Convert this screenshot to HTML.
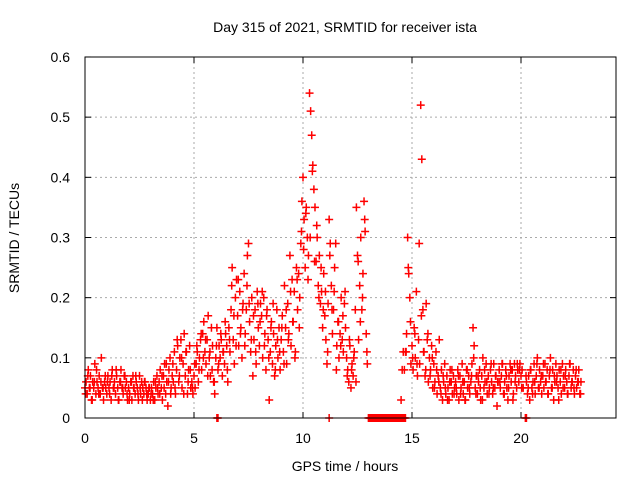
<!DOCTYPE html>
<html><head><meta charset="utf-8"><style>
body{margin:0;background:#fff}
svg{display:block;font-family:"Liberation Sans",sans-serif}
</style></head><body>
<svg id="chart" width="640" height="480">
<text x="345" y="32" text-anchor="middle" font-size="14">Day 315 of 2021, SRMTID for receiver ista</text>
<text x="345" y="471" text-anchor="middle" font-size="14">GPS time / hours</text>
<text transform="translate(19,238) rotate(-90)" text-anchor="middle" font-size="14">SRMTID / TECUs</text>
<g id="grid"></g><g id="ticks"></g><g id="pts"></g>
<rect x="85" y="57" width="531" height="361" fill="none" stroke="#000"/>
</svg>
<script>
const xTicks=[0,5,10,15,20];
const yTicks=[0,0.1,0.2,0.3,0.4,0.5,0.6];
const yTickLabels=["0","0.1","0.2","0.3","0.4","0.5","0.6"];
const stepA=0.05;
const valuesA=[
0.05,0.06,0.04,0.08,0.05,0.07,0.03,0.06,0.05,0.09,0.04,0.06,0.05,0.07,0.04,0.10,0.05,0.03,0.06,0.05,
0.04,0.07,0.05,0.06,0.03,0.08,0.05,0.06,0.04,0.07,0.05,0.03,0.06,0.08,0.05,0.04,0.07,0.05,0.06,0.03,
0.05,0.04,0.06,0.03,0.07,0.05,0.04,0.06,0.05,0.03,0.07,0.04,0.06,0.05,0.04,0.06,0.05,0.03,0.04,0.05,
0.03,0.05,0.04,0.06,0.03,0.05,0.07,0.04,0.06,0.08,0.05,0.03,0.07,0.09,0.04,0.06,0.02,0.08,0.10,0.05,
0.07,0.06,0.11,0.04,0.08,0.12,0.06,0.10,0.13,0.05,0.09,0.14,0.07,0.11,0.04,0.08,0.12,0.05,0.06,0.04,
0.07,0.05,0.09,0.11,0.06,0.10,0.13,0.08,0.14,0.16,0.11,0.09,0.13,0.17,0.10,0.07,0.15,0.12,0.06,0.04,
0.10,0.15,0.08,0.12,0.10,0.13,0.07,0.11,0.09,0.14,0.12,0.06,0.15,0.11,0.18,0.25,0.13,0.09,0.20,0.23,
0.17,0.12,0.21,0.15,0.10,0.19,0.24,0.14,0.18,0.27,0.29,0.16,0.11,0.20,0.07,0.13,0.18,0.09,0.21,0.15,
0.12,0.19,0.17,0.10,0.20,0.14,0.08,0.18,0.13,0.03,0.11,0.16,0.09,0.14,0.07,0.12,0.18,0.10,0.15,0.08,
0.13,0.17,0.11,0.22,0.15,0.09,0.19,0.14,0.27,0.12,0.23,0.16,0.21,0.11,0.25,0.18,0.24,0.20,0.29,0.36,
0.40,0.33,0.25,0.35,0.30,0.27,0.54,0.51,0.47,0.42,0.38,0.35,0.26,0.30,0.22,0.27,0.19,0.21,0.15,0.24,
0.17,0.13,0.09,0.19,0.33,0.29,0.22,0.14,0.18,0.25,0.29,0.12,0.16,0.10,0.14,0.20,0.13,0.11,0.19,0.15,
0.10,0.08,0.06,0.12,0.05,0.09,0.07,0.11,0.18,0.35,0.27,0.13,0.22,0.30,0.18,0.24,0.36,0.31,0.14,0.09,
null,null,null,null,null,null,null,null,null,null,null,null,null,null,null,null,null,null,null,null,
null,null,null,null,null,null,null,null,null,null,0.03,0.08,0.11,0.08,0.11,0.14,0.30,0.24,0.20,0.09,
0.12,0.08,0.15,0.10,0.21,0.07,0.13,0.09,0.52,0.43,0.18,0.11,0.07,0.19,0.13,0.06,0.10,0.08,0.12,0.05,
0.09,0.06,0.11,0.04,0.07,0.13,0.05,0.08,0.03,0.06,0.09,0.04,0.07,0.05,0.03,0.08,0.06,0.04,0.07,0.05,
0.06,0.04,0.08,0.03,0.07,0.05,0.09,0.04,0.06,0.03,0.08,0.05,0.07,0.04,0.06,0.09,0.15,0.12,0.05,0.07,
0.04,0.06,0.08,0.03,0.07,0.10,0.05,0.06,0.09,0.04,0.07,0.05,0.08,0.06,0.04,0.09,0.05,0.07,0.02,0.06,
0.08,0.05,0.07,0.09,0.04,0.06,0.08,0.05,0.03,0.07,0.09,0.06,0.08,0.04,0.09,0.07,0.05,0.08,0.06,0.09,
0.07,0.08,0.05,null,null,0.06,0.04,0.07,0.03,0.08,0.05,0.06,0.09,0.04,0.07,0.10,0.05,0.08,0.06,0.04,
0.07,0.05,0.09,0.06,0.08,0.04,0.07,0.10,0.05,0.08,0.03,0.06,0.09,0.07,0.05,0.08,0.06,0.04,0.09,0.07,
0.05,0.08,0.06,0.04,0.07,0.09,0.05,0.06,0.08,0.04,0.07,0.05,0.06,0.08,0.04,0.06];
const startB=0.03, stepB=0.1;
const valuesB=[
0.04,0.07,0.05,0.03,0.06,0.08,0.04,0.06,0.05,0.07,
0.06,0.04,0.07,0.05,0.08,0.03,0.06,0.05,0.07,0.04,
0.03,0.06,0.05,0.07,0.04,0.05,0.03,0.06,0.04,0.05,
0.04,0.03,0.06,0.05,0.04,0.07,0.05,0.09,0.06,0.04,
0.09,0.05,0.13,0.07,0.10,0.04,0.11,0.06,0.08,0.05,
0.09,0.12,0.08,0.14,0.10,0.13,0.07,0.11,0.08,0.06,
0.12,0.09,0.14,0.11,0.16,0.08,0.13,0.22,0.17,0.12,
0.23,0.14,0.18,0.12,0.22,0.19,0.13,0.17,0.11,0.19,
0.16,0.21,0.12,0.17,0.10,0.15,0.19,0.08,0.13,0.11,
0.15,0.09,0.18,0.13,0.21,0.16,0.10,0.23,0.15,0.31,
0.28,0.34,0.23,0.30,0.41,0.26,0.32,0.20,0.25,0.18,
0.21,0.11,0.27,0.18,0.21,0.08,0.16,0.12,0.17,0.21,
0.07,0.13,0.08,0.10,0.06,0.26,0.16,0.20,0.33,0.11,
null,null,null,null,null,null,null,null,null,null,
null,null,null,null,null,null,null,0.11,0.25,0.16,
0.10,0.14,0.09,0.29,0.17,0.11,0.08,0.14,0.07,0.10,
0.05,0.08,0.06,0.04,0.07,0.05,0.03,0.06,0.08,0.04,
0.05,0.07,0.04,0.06,0.03,0.08,0.05,0.07,0.10,0.04,
0.07,0.05,0.03,0.08,0.06,0.04,0.09,0.05,0.07,0.06,
0.06,0.09,0.04,0.07,0.05,0.08,0.03,0.06,0.09,0.08,
0.05,null,0.07,0.05,0.08,0.04,0.06,0.09,0.05,0.07,
0.09,0.06,0.04,0.08,0.05,0.07,0.06,0.03,0.08,0.05,
0.07,0.04,0.09,0.06,0.05,0.08,0.06,0.04];
const zeroTimes=[6.05,6.1,11.2,13.0,13.05,13.1,13.15,13.2,13.25,13.3,13.35,13.4,13.45,13.5,13.55,13.6,13.65,13.7,13.75,13.8,13.85,13.9,13.95,14.0,14.05,14.1,14.15,14.2,14.25,14.3,14.35,14.4,14.45,14.5,14.55,14.6,14.65,14.7,20.2,20.25];

const NS="http://www.w3.org/2000/svg";
const X0=85,XS=21.8,Y0=418,YS=601.7;
const xs=h=>X0+h*XS, ys=v=>Y0-v*YS;
const grid=document.getElementById('grid'),ticks=document.getElementById('ticks'),pts=document.getElementById('pts');
function mk(tag,attrs,parent){const e=document.createElementNS(NS,tag);for(const k in attrs)e.setAttribute(k,attrs[k]);parent.appendChild(e);return e;}
xTicks.forEach(t=>{const x=xs(t);
 if(t>0){const g=mk('line',{x1:x,x2:x,y1:57,y2:418,stroke:'#aaa','stroke-dasharray':'2,3'},grid);
 
 }
 const a=mk('line',{x1:x,x2:x,y1:418,y2:412,stroke:'#000'},ticks);
 
 
 mk('line',{x1:x,x2:x,y1:57,y2:63,stroke:'#000'},ticks);
 const l=mk('text',{x:x,y:443,'text-anchor':'middle','font-size':14},ticks);l.textContent=String(t);
 
 
});
yTicks.forEach((t,i)=>{const y=ys(t);
 if(t>0&&t<0.6){const g=mk('line',{x1:85,x2:616,y1:y,y2:y,stroke:'#aaa','stroke-dasharray':'2,3'},grid);
 
 }
 const a=mk('line',{x1:85,x2:91,y1:y,y2:y,stroke:'#000'},ticks);
 
 
 mk('line',{x1:610,x2:616,y1:y,y2:y,stroke:'#000'},ticks);
 const l=mk('text',{x:70,y:y+5,'text-anchor':'end','font-size':14},ticks);l.textContent=yTickLabels[i];
 
 
});
function plus(h,v){const x=xs(h),y=ys(v);
 const p=mk('path',{d:`M${x-4},${y}H${x+4}M${x},${y-4}V${y+4}`,stroke:'#f00','stroke-width':1.5,fill:'none'},pts);
 
 }
valuesA.forEach((v,i)=>{if(v!==null)plus(i*stepA,v);});
valuesB.forEach((v,i)=>{if(v!==null)plus(startB+i*stepB,v);});
zeroTimes.forEach(t=>plus(t,0));
</script>
</body></html>
